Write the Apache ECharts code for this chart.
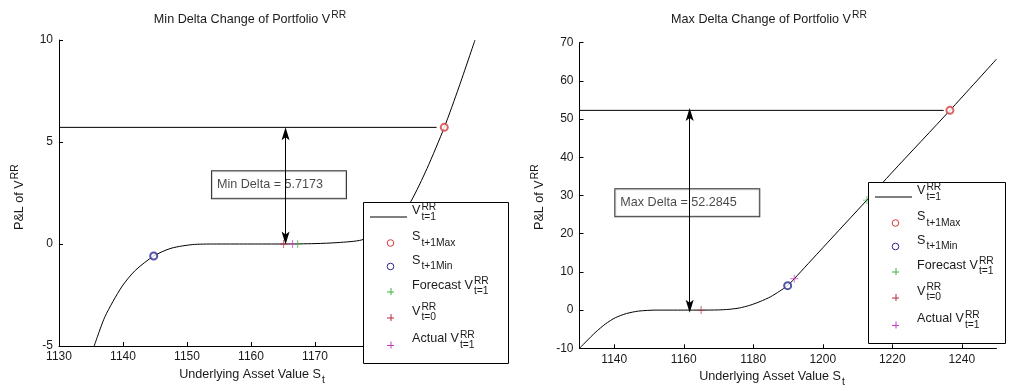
<!DOCTYPE html>
<html>
<head>
<meta charset="utf-8">
<script src="https://cdn.jsdelivr.net/npm/echarts@6/dist/echarts.min.js"></script>
<style>
  html, body { margin: 0; padding: 0; background: #fff; }
  #chart { width: 1012px; height: 391px; }
</style>
</head>
<body>
<div id="chart"></div>
<script>
// ---- Min delta panel: portfolio P&L against underlying value ----
const minCurveS  = [1135.5, 1137.2, 1139.8, 1141.9, 1144.8, 1147.5, 1151.2, 1155, 1160, 1165, 1170, 1173.6, 1177.3, 1181, 1183, 1185, 1187.5, 1190.2, 1192.5, 1195];
const minCurvePL = [-5, -3.55, -2.1, -1.3, -0.59, -0.21, -0.02, 0, 0, 0, 0.02, 0.07, 0.2, 0.72, 1.3, 2.1, 3.7, 5.7173, 7.7, 10];
const minDelta = 5.7173;
const minMaxPt      = [1190.2, 5.7173];   // S t+1 Max
const minMinPt      = [1144.8, -0.59];    // S t+1 Min
const minForecastPt = [1167.3, 0];
const minStartPt    = [1165.1, 0];
const minActualPt   = [1166.5, 0];
const minArrow      = [1165.4, 0.3, 5.4];  // x, low tip, high tip
const minLevelEnd   = 1189.0;
const minBoxAt      = [1153.9, 2.9];
const minXTicks = [1130, 1140, 1150, 1160, 1170, 1180, 1190];

// ---- Max delta panel ----
const maxCurveS  = [1130, 1134.5, 1137.5, 1140.3, 1143.5, 1147, 1152, 1160, 1165, 1170, 1173, 1176, 1179, 1182, 1185, 1187.5, 1189.9, 1191.8, 1200, 1212.7, 1220, 1236.6, 1250];
const maxCurvePL = [-10, -5.9, -3.6, -2.0, -0.9, -0.26, 0, 0, 0, 0.05, 0.2, 0.55, 1.25, 2.25, 3.5, 4.9, 6.4, 8.2, 16.3, 28.8, 36.1, 52.2845, 65.7];
const maxDelta = 52.2845;
const maxMaxPt      = [1236.6, 52.2845];
const maxMinPt      = [1189.9, 6.4];
const maxForecastPt = [1212.7, 28.8];
const maxStartPt    = [1165.0, 0];
const maxActualPt   = [1191.8, 8.2];
const maxArrow      = [1161.7, 1.0, 51.2];
const maxLevelEnd   = 1234.8;
const maxBoxAt      = [1140.3, 28.1];
const maxXTicks = [1140, 1160, 1180, 1200, 1220, 1240];

// ---- legend entries: base text, superscript, subscript ----
const legendBase = ['V', 'S', 'S', 'Forecast V', 'V', 'Actual V'];
const legendSup  = ['RR', '', '', 'RR', 'RR', 'RR'];
const legendSub  = ['t=1', 't+1Max', 't+1Min', 't=1', 't=0', 't=1'];
const legendKind = ['line', 'circle', 'circle', 'plus', 'plus', 'plus'];

const FONT = '"Liberation Sans", Arial, Helvetica, sans-serif';
const TEXT = '#1a1a1a';
const BASE_SIZE = 12.6;
const SCRIPT_SIZE = 10.3;
const cMax = '#d43a3a';
const cMin = '#2a2a8e';
const cForecast = '#3cb43c';
const cStart = '#b8283e';
const cActual = '#c63cc6';
const legendColors = ['#000', cMax, cMin, cForecast, cStart, cActual];
const PLUS = 'path://M4,0h1v4h4v1h-4v4h-1v-4h-4v-1h4z';
// slim concave arrowhead; the two degenerate strokes keep its box square so it is not widened
const ARROW = 'path://M0,0L4,13L0,10L-4,13Z M-6.5,13L-6.45,13 M6.5,13L6.45,13';

const zip = (a, b) => a.map((v, i) => [v, b[i]]);

const measure = document.createElement('canvas').getContext('2d');
function textWidth(t, size) { measure.font = size + 'px ' + FONT; return measure.measureText(t).width; }

function txt(x, y, t, size) {
  return { type: 'text', x: x, y: y, z: 60,
    style: { text: t, font: size + 'px ' + FONT, fill: TEXT,
             align: 'left', verticalAlign: 'middle', textAlign: 'left', textVerticalAlign: 'middle' } };
}
// base text followed by stacked super/subscript
function scripted(x, y, base, sup, sub, anchor, supDy, subDy) {
  const bw = textWidth(base, BASE_SIZE);
  const sw = Math.max(sup ? textWidth(sup, SCRIPT_SIZE) : 0, sub ? textWidth(sub, SCRIPT_SIZE) : 0);
  const total = bw + (sw ? sw + 1 : 0);
  const x0 = anchor === 'center' ? x - total / 2 : x;
  const els = [txt(x0, y, base, BASE_SIZE)];
  if (sup) els.push(txt(x0 + bw + 1, y + supDy, sup, SCRIPT_SIZE));
  if (sub) els.push(txt(x0 + bw + 1, y + subDy, sub, SCRIPT_SIZE));
  return els;
}

const rowOffsets = [15, 41, 64.5, 89.5, 115.5, 143];
function legendBox(left, top, w, h) {
  const els = [{ type: 'rect', z: 50, shape: { x: left + 0.5, y: top + 0.5, width: w, height: h },
                 style: { fill: '#fff', stroke: '#000', lineWidth: 1 } }];
  rowOffsets.forEach((off, i) => {
    const cy = top + off, mx = left + 27.5, c = legendColors[i];
    if (legendKind[i] === 'line') {
      els.push({ type: 'line', z: 55, shape: { x1: left + 7, y1: cy, x2: left + 44, y2: cy }, style: { stroke: '#000', lineWidth: 1 } });
    } else if (legendKind[i] === 'circle') {
      els.push({ type: 'circle', z: 55, shape: { cx: mx, cy: cy, r: 3.3 }, style: { fill: '#fff', stroke: c, lineWidth: 1 } });
    } else {
      els.push({ type: 'line', z: 55, shape: { x1: mx - 3.5, y1: cy + 0.5, x2: mx + 3.5, y2: cy + 0.5 }, style: { stroke: c, lineWidth: 1 } });
      els.push({ type: 'line', z: 55, shape: { x1: mx + 0.5, y1: cy - 3.5, x2: mx + 0.5, y2: cy + 3.5 }, style: { stroke: c, lineWidth: 1 } });
    }
    els.push(...scripted(left + 49, cy - 6, legendBase[i], legendSup[i], legendSub[i], 'left', -4, 6));
  });
  return els;
}

const plain = v => String(v);
function xAxis(gi, min, max, ticks) {
  return { type: 'value', gridIndex: gi, min: min, max: max,
    axisLine: { show: true, onZero: false, lineStyle: { color: '#000', width: 1 } },
    axisTick: { show: true, inside: true, length: 4, customValues: ticks, lineStyle: { color: '#000' } },
    axisLabel: { customValues: ticks, formatter: plain, color: TEXT, fontSize: 12, fontFamily: FONT, margin: 5 },
    splitLine: { show: false } };
}
function yAxis(gi, min, max, step) {
  return { type: 'value', gridIndex: gi, min: min, max: max, interval: step,
    axisLine: { show: true, onZero: false, lineStyle: { color: '#000', width: 1 } },
    axisTick: { show: true, inside: true, length: 4, lineStyle: { color: '#000' } },
    axisLabel: { formatter: plain, color: TEXT, fontSize: 12, fontFamily: FONT, margin: 6 },
    splitLine: { show: false } };
}

function panelSeries(gi, curveS, curvePL, delta, levelEnd, arrow, boxAt, boxLabel, boxWidth, pts) {
  const ax = { xAxisIndex: gi, yAxisIndex: gi };
  const out = [
    Object.assign({ type: 'line', data: zip(curveS, curvePL), showSymbol: false, smooth: 0.25,
      lineStyle: { color: '#000', width: 1 }, z: 2, silent: true }, ax),
    Object.assign({ type: 'scatter', data: [boxAt], symbolSize: 0, z: 3, silent: true,
      label: { show: true, position: 'right', distance: 0, formatter: boxLabel,
        backgroundColor: '#fff', borderColor: '#000', borderWidth: 1, padding: [6, 5, 6, 5],
        width: boxWidth, lineHeight: 15, color: TEXT, fontSize: BASE_SIZE, fontFamily: FONT } }, ax),
    Object.assign({ type: 'line', data: [[1130, delta], [levelEnd, delta]],
      showSymbol: false, lineStyle: { color: '#000', width: 1 }, z: 5, silent: true,
      markLine: { silent: true, symbol: [ARROW, ARROW], symbolSize: 13,
        label: { show: false }, lineStyle: { color: '#000', width: 1, type: 'solid' },
        itemStyle: { color: '#000' },
        data: [[{ coord: [arrow[0], arrow[1]] }, { coord: [arrow[0], arrow[2]] }]] } }, ax)
  ];
  const marks = [
    [pts[0], 'emptyCircle', cMax, 7],
    [pts[1], 'emptyCircle', cMin, 7],
    [pts[2], PLUS, cForecast, 8],
    [pts[3], PLUS, cStart, 8],
    [pts[4], PLUS, cActual, 8]
  ];
  marks.forEach(m => out.push(Object.assign({ type: 'scatter', data: [m[0]], symbol: m[1], symbolSize: m[3],
    itemStyle: { color: m[2], borderColor: m[2], borderWidth: m[1] === PLUS ? 0 : 1 }, z: 6, silent: true }, ax)));
  return out;
}

const chart = echarts.init(document.getElementById('chart'), null, { renderer: 'canvas' });
chart.setOption({
  animation: false,
  backgroundColor: '#fff',
  grid: [
    { left: 59, top: 40, width: 416, height: 306 },
    { left: 579.5, top: 42.7, width: 417, height: 305.6 }
  ],
  xAxis: [xAxis(0, 1130, 1195, minXTicks), xAxis(1, 1130, 1250, maxXTicks)],
  yAxis: [yAxis(0, -5, 10, 5), yAxis(1, -10, 70, 10)],
  series: [].concat(
    panelSeries(0, minCurveS, minCurvePL, minDelta, minLevelEnd, minArrow, minBoxAt,
      'Min Delta = ' + minDelta.toFixed(4), 124,
      [minMaxPt, minMinPt, minForecastPt, minStartPt, minActualPt]),
    panelSeries(1, maxCurveS, maxCurvePL, maxDelta, maxLevelEnd, maxArrow, maxBoxAt,
      'Max Delta = ' + maxDelta.toFixed(4), 134,
      [maxMaxPt, maxMinPt, maxForecastPt, maxStartPt, maxActualPt])
  ),
  graphic: [].concat(
    scripted(250, 20, 'Min Delta Change of Portfolio V', 'RR', '', 'center', -4.5, 0),
    scripted(769, 20, 'Max Delta Change of Portfolio V', 'RR', '', 'center', -4.5, 0),
    scripted(252, 375, 'Underlying Asset Value S', '', 't', 'center', 0, 5),
    scripted(772, 377, 'Underlying Asset Value S', '', 't', 'center', 0, 5),
    [{ type: 'group', x: 20, y: 230, rotation: Math.PI / 2, children: scripted(0, 0, 'P&L of V', 'RR', '', 'left', -4.5, 0) },
     { type: 'group', x: 540, y: 230, rotation: Math.PI / 2, children: scripted(0, 0, 'P&L of V', 'RR', '', 'left', -4.5, 0) }],
    legendBox(363, 202, 145, 161),
    legendBox(868, 182, 137, 161)
  )
});
</script>
</body>
</html>
